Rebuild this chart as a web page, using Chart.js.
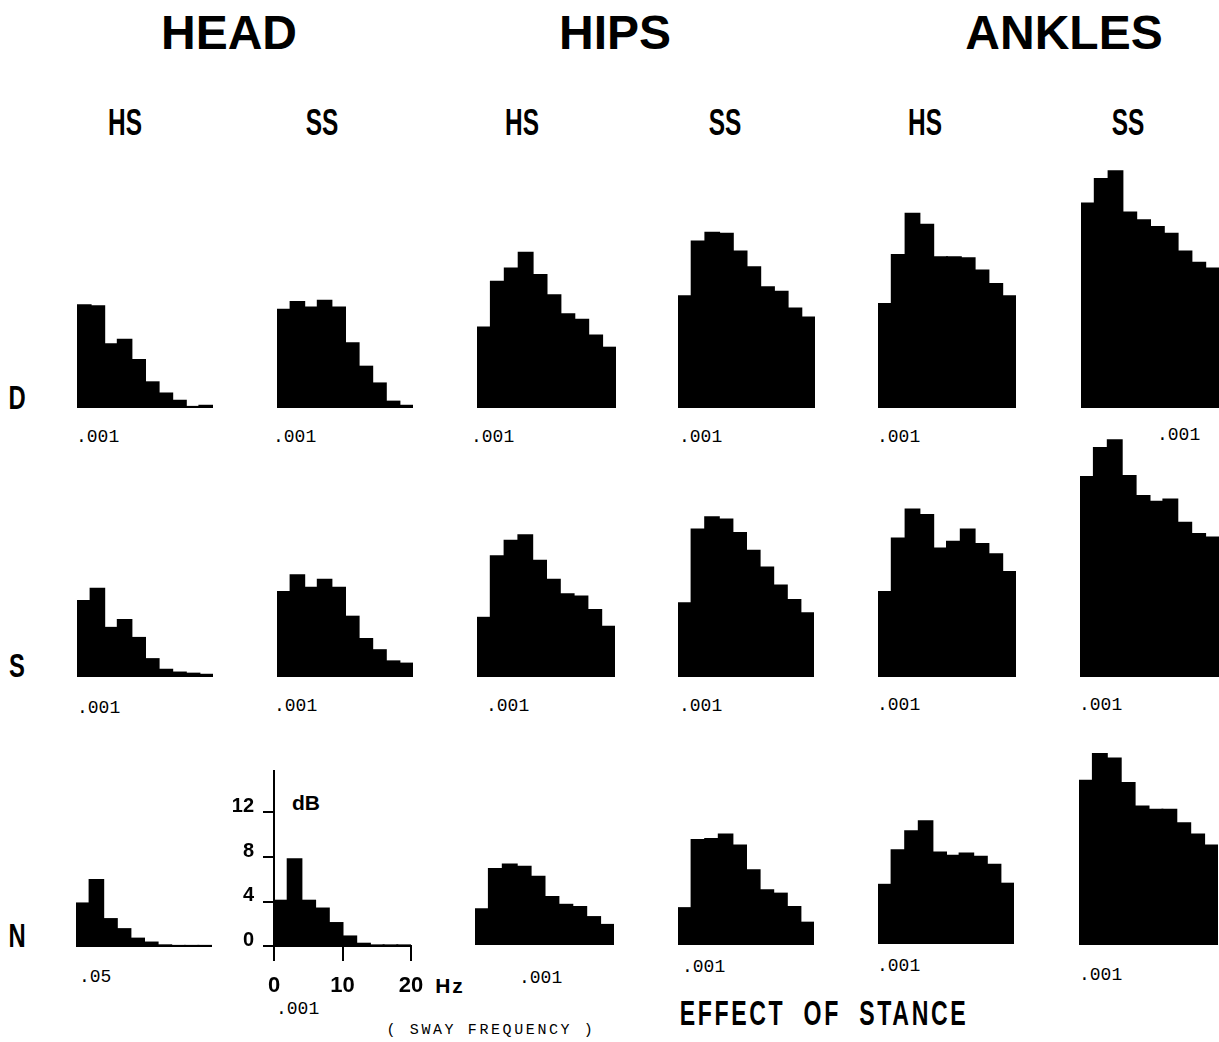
<!DOCTYPE html>
<html>
<head>
<meta charset="utf-8">
<script src="https://cdn.jsdelivr.net/npm/chart.js@4.4.1/dist/chart.umd.min.js"></script>
<style>
  body { margin: 0; background: #fff; width: 1219px; height: 1042px; position: relative; overflow: hidden; }
  .box { position: absolute; }
  .t { position: absolute; transform: translate(-50%, -50%); white-space: nowrap; color: #000; }
  .big { font: bold 48px "Liberation Sans", Arial, sans-serif; }
  .cond { font: bold 37px "Liberation Sans", Arial, sans-serif; transform: translate(-50%, -50%) scaleX(0.66); }
  .row { font: bold 34px "Liberation Sans", Arial, sans-serif; transform: translate(-50%, -50%) scaleX(0.7); }
  .num { position: absolute; transform: translate(0, -50%); font: 18px "Liberation Mono", "Courier New", monospace; color: #000; }
  .axlbl { font: bold 21px "Liberation Sans", Arial, sans-serif; }
</style>
</head>
<body>

<div class="t big" style="left:229px;top:32px">HEAD</div>
<div class="t big" style="left:615px;top:32px">HIPS</div>
<div class="t big" style="left:1064px;top:32px">ANKLES</div>

<div class="t cond" style="left:125px;top:123px">HS</div>
<div class="t cond" style="left:322px;top:123px">SS</div>
<div class="t cond" style="left:522px;top:123px">HS</div>
<div class="t cond" style="left:725px;top:123px">SS</div>
<div class="t cond" style="left:925px;top:123px">HS</div>
<div class="t cond" style="left:1128px;top:123px">SS</div>

<div class="t row" style="left:17px;top:397px">D</div>
<div class="t row" style="left:17px;top:665px">S</div>
<div class="t row" style="left:17px;top:935px">N</div>

<div class="num" style="left:76px;top:437px">.001</div>
<div class="num" style="left:273px;top:437px">.001</div>
<div class="num" style="left:471px;top:437px">.001</div>
<div class="num" style="left:679px;top:437px">.001</div>
<div class="num" style="left:877px;top:437px">.001</div>
<div class="num" style="left:1157px;top:435px">.001</div>

<div class="num" style="left:77px;top:708px">.001</div>
<div class="num" style="left:274px;top:706px">.001</div>
<div class="num" style="left:486px;top:706px">.001</div>
<div class="num" style="left:679px;top:706px">.001</div>
<div class="num" style="left:877px;top:705px">.001</div>
<div class="num" style="left:1079px;top:705px">.001</div>

<div class="num" style="left:79px;top:977px">.05</div>
<div class="num" style="left:276px;top:1009px">.001</div>
<div class="num" style="left:519px;top:978px">.001</div>
<div class="num" style="left:682px;top:967px">.001</div>
<div class="num" style="left:877px;top:966px">.001</div>
<div class="num" style="left:1079px;top:975px">.001</div>

<div class="t axlbl" style="left:306px;top:803px">dB</div>
<div class="t axlbl" style="left:450px;top:986px;letter-spacing:2px">Hz</div>

<div class="t" style="left:491px;top:1030px;font:15px 'Liberation Mono','Courier New',monospace;letter-spacing:2.6px">( SWAY FREQUENCY )</div>
<div class="t cond" style="left:824px;top:1013px;font-size:35px;word-spacing:14px;letter-spacing:4px">EFFECT OF STANCE</div>

<script>
// sway frequency bins (Hz, bin centres, 2 Hz wide)
const freqCenters = [1, 3, 5, 7, 9, 11, 13, 15, 17, 19];
const xTicks = [0, 10, 20];
const yTicks = [0, 4, 8, 12];

// power in dB, row D
const headHsD = [9.2, 9.1, 5.7, 6.1, 4.3, 2.3, 1.3, 0.65, 0.1, 0.2];
const headSsD = [8.8, 9.5, 9.0, 9.6, 9.0, 5.8, 3.7, 2.2, 0.57, 0.2];
const hipsHsD = [7.2, 11.3, 12.5, 13.9, 11.9, 10.1, 8.4, 7.9, 6.5, 5.4];
const hipsSsD = [10.0, 14.9, 15.7, 15.6, 14.0, 12.6, 10.8, 10.4, 8.9, 8.1];
const anklesHsD = [9.3, 13.7, 17.4, 16.4, 13.5, 13.5, 13.4, 12.3, 11.1, 10.0];
const anklesSsD = [18.3, 20.5, 21.2, 17.5, 16.8, 16.2, 15.6, 14.0, 13.0, 12.5];

// row S
const headHsS = [6.8, 7.9, 4.4, 5.1, 3.5, 1.6, 0.65, 0.4, 0.3, 0.2];
const headSsS = [7.6, 9.1, 8.0, 8.7, 8.0, 5.4, 3.4, 2.4, 1.4, 1.2];
const hipsHsS = [5.3, 10.8, 12.2, 12.7, 10.4, 8.7, 7.4, 7.2, 6.0, 4.5];
const hipsSsS = [6.6, 13.2, 14.3, 14.1, 12.9, 11.3, 9.8, 8.2, 6.9, 5.7];
const anklesHsS = [7.6, 12.4, 15.0, 14.5, 11.5, 12.1, 13.2, 11.9, 11.0, 9.4];
const anklesSsS = [17.9, 20.5, 21.2, 18.0, 16.2, 15.7, 15.9, 13.8, 12.8, 12.5];

// row N
const headHsN = [3.9, 6.0, 2.5, 1.6, 0.75, 0.4, 0.15, 0.1, 0.1, 0.1];
const headSsN = [4.1, 7.8, 4.1, 3.4, 2.1, 0.9, 0.25, 0.1, 0.1, 0.1];
const hipsHsN = [3.2, 6.8, 7.2, 7.0, 6.1, 4.3, 3.6, 3.4, 2.5, 1.8];
const hipsSsN = [3.3, 9.4, 9.5, 9.9, 8.9, 6.7, 4.9, 4.6, 3.4, 2.0];
const anklesHsN = [5.3, 8.4, 10.1, 11.0, 8.2, 7.9, 8.1, 7.8, 7.1, 5.4];
const anklesSsN = [14.7, 17.1, 16.7, 14.5, 12.4, 12.1, 12.1, 10.9, 9.9, 8.9];

const PX_PER_DB = 11.17;
const PANEL_H = 246;

// where each little histogram sits: left, right, baseline (px)
const panels = [
  [headHsD, 77, 213, 408], [headSsD, 277, 413, 408], [hipsHsD, 477, 616, 408],
  [hipsSsD, 678, 815, 408], [anklesHsD, 878, 1016, 408], [anklesSsD, 1081, 1219, 408],
  [headHsS, 77, 213, 677], [headSsS, 277, 413, 677], [hipsHsS, 477, 615, 677],
  [hipsSsS, 678, 814, 677], [anklesHsS, 878, 1016, 677], [anklesSsS, 1080, 1219, 677],
  [headHsN, 76, 212, 947], [hipsHsN, 475, 614, 945],
  [hipsSsN, 678, 814, 945], [anklesHsN, 878, 1014, 944], [anklesSsN, 1079, 1218, 945]
];

function barData(vals) {
  return freqCenters.map((f, i) => ({ x: f, y: vals[i] }));
}

function makeBox(left, top, w, h) {
  const div = document.createElement('div');
  div.className = 'box';
  div.style.left = left + 'px';
  div.style.top = top + 'px';
  div.style.width = w + 'px';
  div.style.height = h + 'px';
  const cv = document.createElement('canvas');
  div.appendChild(cv);
  document.body.appendChild(div);
  return cv;
}

const ds = vals => ({
  data: barData(vals),
  backgroundColor: '#000',
  borderWidth: 0,
  inflateAmount: 1,
  barPercentage: 1,
  categoryPercentage: 1
});

panels.forEach(([vals, l, r, base]) => {
  const cv = makeBox(l, base - PANEL_H, r - l, PANEL_H);
  new Chart(cv, {
    type: 'bar',
    data: { datasets: [ds(vals)] },
    options: {
      animation: false, responsive: true, maintainAspectRatio: false, events: [],
      plugins: { legend: { display: false }, tooltip: { enabled: false } },
      layout: { padding: 0 },
      scales: {
        x: { type: 'linear', display: false, min: 0, max: 20, offset: false },
        y: { display: false, min: 0, max: PANEL_H / PX_PER_DB }
      }
    }
  });
});

// the one panel with its axes drawn (head, SS, row N)
const yMin = -1.2, yMax = 15.8;
const yAxisW = 45;
const zeroY = 946, zeroX = 274, endX = 411;
const areaTop = zeroY - yMax * PX_PER_DB;
const areaH = (yMax - yMin) * PX_PER_DB;
const cvAx = makeBox(zeroX - yAxisW, areaTop, yAxisW + (endX - zeroX) + 35, areaH + 50);
const tickFont = { family: '"Liberation Sans", Arial, sans-serif', weight: 'bold' };

new Chart(cvAx, {
  type: 'bar',
  data: { datasets: [ds(headSsN)] },
  options: {
    animation: false, responsive: true, maintainAspectRatio: false, events: [],
    plugins: { legend: { display: false }, tooltip: { enabled: false } },
    layout: { padding: { left: 0, top: 0, right: 35, bottom: 50 } },
    scales: {
      x: {
        type: 'linear', min: 0, max: 20, offset: false, position: { y: 0 },
        afterBuildTicks: a => { a.ticks = xTicks.map(v => ({ value: v })); },
        afterFit: a => { a.paddingLeft = 0; a.paddingRight = 0; },
        border: { display: true, color: '#000', width: 2 },
        grid: { offset: false, drawOnChartArea: false, drawTicks: true, tickLength: 14, color: '#000', lineWidth: 2 },
        ticks: { color: '#000', font: { ...tickFont, size: 22 }, padding: 12, maxRotation: 0, autoSkip: false }
      },
      y: {
        min: yMin, max: yMax, position: 'left',
        afterBuildTicks: a => { a.ticks = yTicks.map(v => ({ value: v })); },
        afterFit: a => { a.width = yAxisW; a.paddingTop = 0; a.paddingBottom = 0; },
        border: { display: true, color: '#000', width: 2 },
        grid: { offset: false, drawOnChartArea: false, drawTicks: true, tickLength: 11, color: '#000', lineWidth: 2 },
        ticks: { color: '#000', font: { ...tickFont, size: 20 }, padding: 9, labelOffset: -6 }
      }
    }
  }
});
</script>
</body>
</html>
